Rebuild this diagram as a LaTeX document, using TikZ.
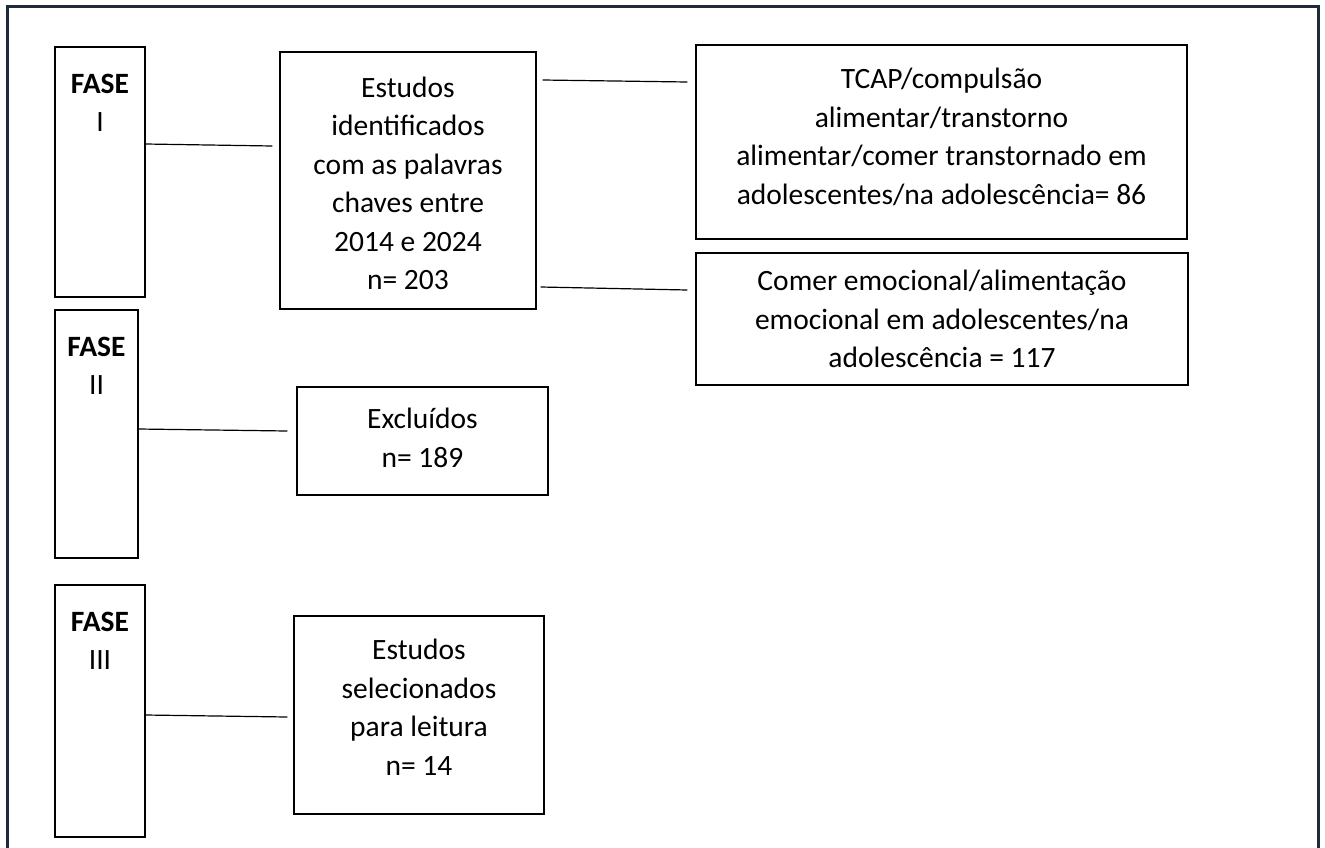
\documentclass[tikz,border=0pt]{standalone}
\usepackage{fontspec}
\setmainfont{Carlito}
\usetikzlibrary{calc}
\definecolor{frameblue}{HTML}{1F2B3D}
\begin{document}
\begin{tikzpicture}[x=1pt,y=-1pt,
  box/.style={draw=black, line width=1.3pt, rectangle, inner sep=0pt},
  txt/.style={inner sep=0pt, align=center, font=\fontsize{29.5}{38.5}\selectfont},
  fasetxt/.style={inner sep=0pt, align=center, font=\fontsize{29.5}{38}\selectfont},
  link/.style={draw=black, line width=1.2pt},
  frame/.style={draw=frameblue, line width=3pt}]
\useasboundingbox (0,0) rectangle (1325,847);
\draw[frame] (7,852) -- (7,6) -- (1318,6) -- (1318,852);

% phase boxes
\node[box, minimum width=90pt, minimum height=250pt] (F1) at (100,172) {};
\node[box, minimum width=83pt, minimum height=248pt] (F2) at (96.5,434) {};
\node[box, minimum width=90pt, minimum height=252pt] (F3) at (100,711) {};
\node[fasetxt, anchor=north] (F1t) at ($(F1.north)+(0,28)$) {\textbf{FASE}\\I};
\node[fasetxt, anchor=north] (F2t) at ($(F2.north)+(0,28)$) {\textbf{FASE}\\II};
\node[fasetxt, anchor=north] (F3t) at ($(F3.north)+(0,28)$) {\textbf{FASE}\\III};

% content boxes
\node[box, minimum width=256pt, minimum height=257pt] (E) at (408,180.5) {};
\node[box, minimum width=491pt, minimum height=194pt] (T) at (941.5,142) {};
\node[box, minimum width=492pt, minimum height=132pt] (C) at (942,319) {};
\node[box, minimum width=251pt, minimum height=108pt] (X) at (422.5,441) {};
\node[box, minimum width=250pt, minimum height=198pt] (S) at (419,715) {};

\node[txt] (Et) at ($(E.center)+(0,3)$)
  {Estudos\\identificados\\com as palavras\\chaves entre\\2014 e 2024\\n= 203};
\node[txt] (Tt) at ($(T.center)+(0,-5)$)
  {TCAP/compulsão\\alimentar/transtorno\\alimentar/comer transtornado em\\adolescentes/na adolescência= 86};
\node[txt] (Ct) at ($(C.center)+(0,0)$)
  {Comer emocional/alimentação\\emocional em adolescentes/na\\adolescência = 117};
\node[txt] (Xt) at ($(X.center)+(0,-3)$)
  {Excluídos\\n= 189};
\node[txt] (St) at ($(S.center)+(0,-8)$)
  {Estudos\\selecionados\\para leitura\\n= 14};

% connectors
\draw[link] (F1.east |- 0,144) -- ($(E.west |- 0,146)+(-7,0)$);
\draw[link] ($(E.east |- 0,80)+(6,0)$) -- ($(T.west |- 0,82)+(-8,0)$);
\draw[link] ($(E.east |- 0,287)+(4,0)$) -- ($(C.west |- 0,290)+(-8,0)$);
\draw[link] (F2.east |- 0,429) -- ($(X.west |- 0,431)+(-9,0)$);
\draw[link] (F3.east |- 0,715) -- ($(S.west |- 0,717)+(-6,0)$);
\end{tikzpicture}
\end{document}
